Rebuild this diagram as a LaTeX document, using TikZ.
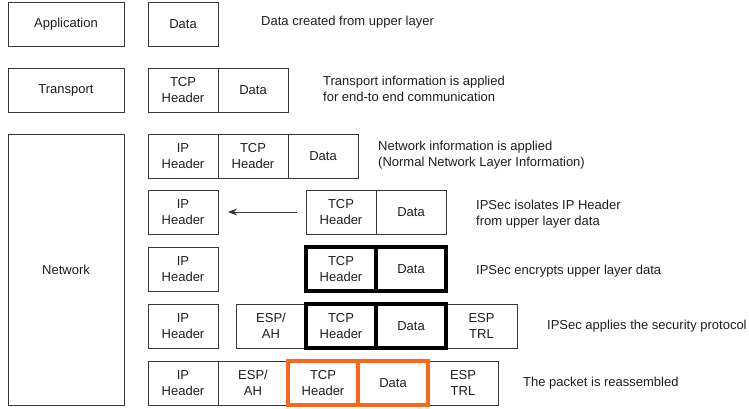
\documentclass[tikz,border=0pt]{standalone}
\usepackage{fontspec}
\setmainfont{Liberation Sans}
\usetikzlibrary{positioning,arrows.meta}
\definecolor{boxgray}{RGB}{55,55,55}
\definecolor{txtgray}{RGB}{30,30,30}
\definecolor{orng}{RGB}{250,105,25}
\tikzset{
  layer/.style={draw=boxgray,line width=0.9pt,minimum width=116pt,minimum height=44pt,inner sep=0pt,outer sep=0pt,text=txtgray,font=\fontsize{13}{16.5}\selectfont},
  cell/.style={draw=boxgray,line width=0.9pt,minimum width=70pt,minimum height=44pt,inner sep=0pt,outer sep=0pt,align=center,text=txtgray,font=\fontsize{13}{16.5}\selectfont},
  enc/.style={cell,draw=black,line width=3.2pt},
  reas/.style={cell,draw=orng,line width=3.4pt},
  note/.style={anchor=west,align=left,inner sep=0pt,text=txtgray,font=\fontsize{13}{16}\selectfont},
  every picture/.style={x=1pt,y=-1pt}
}
\begin{document}
\begin{tikzpicture}
    \useasboundingbox (0,0) rectangle (749,409);
    % layers
    \node[layer,anchor=north west] (app) at (8,2) {Application};
    \node[layer,anchor=north west] (trn) at (8,68) {Transport};
    \node[layer,anchor=north west,minimum height=271pt] (net) at (8,134) {Network};
    % application and transport
    \node[cell,anchor=north west] (A1) at (148,2) {Data};
    \node[cell,anchor=north west] (T1) at (148,68) {TCP\\Header};
    \node[cell,right=0pt of T1] (T2) {Data};
    % network rows, IP header column
    \foreach \r/\y in {3/134,4/190,5/247,6/304,7/361}{
      \node[cell,anchor=north west] (R\r ip) at (148,\y) {IP\\Header};}
    \node[cell,right=0pt of R3ip] (R3tcp) {TCP\\Header};
    \node[cell,right=0pt of R3tcp] (R3dat) {Data};
    \node[cell,anchor=north west] (R4tcp) at (306,190) {TCP\\Header};
    \node[cell,right=0pt of R4tcp] (R4dat) {Data};
    \draw[-{Stealth[length=9pt,width=7pt]},line width=0.9pt,boxgray,shorten <=9pt,shorten >=10pt] (R4tcp) -- (R4ip);
    \node[enc,anchor=north west] (R5tcp) at (306,247) {TCP\\Header};
    \node[enc,right=0pt of R5tcp] (R5dat) {Data};
    \node[cell,anchor=north west] (R6esp) at (236,304) {ESP/\\AH};
    \node[cell,anchor=north west,minimum width=71pt] (R6trl) at (446,304) {ESP\\TRL};
    \node[enc,right=0pt of R6esp] (R6tcp) {TCP\\Header};
    \node[enc,right=0pt of R6tcp] (R6dat) {Data};
    \node[cell,right=0pt of R7ip] (R7esp) {ESP/\\AH};
    \node[cell,anchor=north west] (R7trl) at (428,361) {ESP\\TRL};
    \node[reas,right=0pt of R7esp] (R7tcp) {TCP\\Header};
    \node[reas,right=0pt of R7tcp] (R7dat) {Data};
    % notes
    \node[note] (n1) at (261,22) {Data created from upper layer};
    \node[note] (n2) at (323,89) {Transport information is applied\\for end-to end communication};
    \node[note] (n3) at (378,155) {Network information is applied\\(Normal Network Layer Information)};
    \node[note] (n4) at (476,214) {IPSec isolates IP Header\\from upper layer data};
    \node[note] (n5) at (476,271) {IPSec encrypts upper layer data};
    \node[note] (n6) at (547,326) {IPSec applies the security protocol};
    \node[note] (n7) at (523,383) {The packet is reassembled};
\end{tikzpicture}
\end{document}
